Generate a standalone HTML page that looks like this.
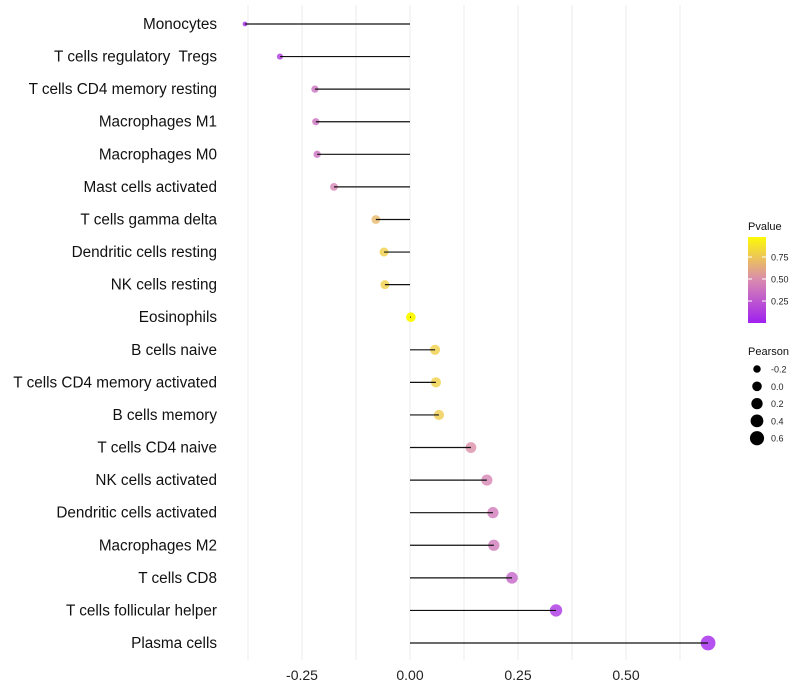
<!DOCTYPE html>
<html><head><meta charset="utf-8"><style>
body{margin:0;background:#fff;font-family:"Liberation Sans",sans-serif}
svg{display:block}
text{white-space:pre}
</style></head><body>
<svg id="chart" width="800" height="700"></svg>
<script>
const cells=["Monocytes","T cells regulatory  Tregs","T cells CD4 memory resting","Macrophages M1","Macrophages M0","Mast cells activated","T cells gamma delta","Dendritic cells resting","NK cells resting","Eosinophils","B cells naive","T cells CD4 memory activated","B cells memory","T cells CD4 naive","NK cells activated","Dendritic cells activated","Macrophages M2","T cells CD8","T cells follicular helper","Plasma cells"];
const pearson=[-0.382,-0.301,-0.220,-0.218,-0.215,-0.176,-0.079,-0.060,-0.058,0.002,0.058,0.060,0.067,0.141,0.178,0.192,0.194,0.236,0.338,0.690];
const pvalue=[0.05,0.12,0.38,0.38,0.38,0.47,0.7,0.8,0.8,0.98,0.8,0.8,0.78,0.52,0.47,0.42,0.42,0.32,0.1,0.02];
const xTicks=[-0.25,0,0.25,0.5];
const xTickLabels=["-0.25","0.00","0.25","0.50"];
const legP=[0.25,0.5,0.75];
const legS=[-0.2,0,0.2,0.4,0.6];

const svg=document.getElementById('chart');
const NS="http://www.w3.org/2000/svg";
function mk(t,a,p){const e=document.createElementNS(NS,t);for(const k in a)e.setAttribute(k,a[k]);(p||svg).appendChild(e);return e;}
const x=v=>410+v*432;
const y=i=>24+i*(619/19);
const r=v=>Math.sqrt(Math.max(4,23+45*v));
function col(p){const s=[[160,32,240],[217,138,176],[255,255,0]];let t=p*2,a,b;if(t<=1){a=s[0];b=s[1];}else{a=s[1];b=s[2];t-=1;}return `rgb(${a.map((c,i)=>Math.round(c+(b[i]-c)*t)).join(',')})`;}

for(let g=-0.375;g<=0.64;g+=0.125){const l=mk('line',{x1:x(g),x2:x(g),y1:5,y2:660,stroke:'#ebebeb','stroke-width':1});
}
xTicks.forEach((t,i)=>{const e=mk('text',{x:x(t),y:680,'text-anchor':'middle','font-size':14,fill:'#222'});e.textContent=xTickLabels[i];
});
cells.forEach((c,i)=>{
 const e=mk('text',{x:217,y:y(i)+5,'text-anchor':'end','font-size':15.3,fill:'#111'});e.textContent=c;
 
 const pt=mk('circle',{cx:x(pearson[i]),cy:y(i),r:r(pearson[i]),fill:col(pvalue[i]),'fill-opacity':pvalue[i]>0.95?1:0.8});
 
 const l=mk('line',{x1:x(0),x2:x(pearson[i]),y1:y(i),y2:y(i),stroke:'#111','stroke-width':1.2});
 
});
const defs=mk('defs',{});
const lg=mk('linearGradient',{id:'pg',x1:0,y1:1,x2:0,y2:0},defs);
[0,0.5,0.98].forEach((o,i)=>mk('stop',{offset:o===0.98?1:o,'stop-color':col(o)},lg));
const lt=mk('text',{x:748,y:230,'font-size':11,fill:'#111'});lt.textContent='Pvalue';

const bar=mk('rect',{x:748,y:237,width:18,height:86,fill:'url(#pg)'});

const py=p=>323-p*88;
legP.forEach(p=>{mk('line',{x1:748,x2:752,y1:py(p),y2:py(p),stroke:'#fff'});mk('line',{x1:762,x2:766,y1:py(p),y2:py(p),stroke:'#fff'});
 const e=mk('text',{x:771,y:py(p)+3.5,'font-size':9,fill:'#222'});e.textContent=p.toFixed(2);
 });
const st=mk('text',{x:748,y:355,'font-size':11,fill:'#111'});st.textContent='Pearson';

legS.forEach((s,i)=>{const cy=369+i*17.3;
 const c=mk('circle',{cx:757,cy:cy,r:r(s),fill:'#000'});
 
 const e=mk('text',{x:771,y:cy+3.5,'font-size':9,fill:'#222'});e.textContent=s.toFixed(1);
 });
</script>
</body></html>
